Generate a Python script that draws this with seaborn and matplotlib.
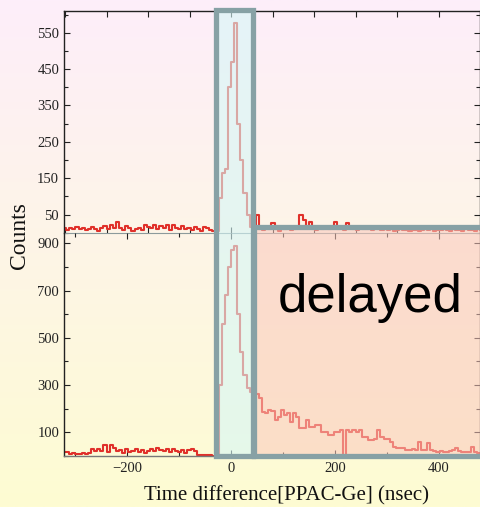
import numpy as np
import pandas as pd
import matplotlib
matplotlib.use("Agg")
import matplotlib.pyplot as plt
import matplotlib.colors as mcolors
import seaborn as sns
from matplotlib.patches import Rectangle
from matplotlib.transforms import blended_transform_factory
from matplotlib.ticker import FixedLocator, MultipleLocator, NullFormatter

# ---------------- data ----------------
bin_start = -324          # ns, left edge of first bin
bin_width = 6             # ns

top_counts = [
    12, 8, 14, 10, 15, 9, 13, 7, 11, 16,
    10, 6, 12, 18, 9, 22, 14, 30, 12, 8,
    18, 14, 6, 9, 12, 8, 20, 16, 12, 22,
    10, 18, 12, 20, 8, 22, 14, 10, 18, 9,
    12, 8, 15, 10, 6, 16, 12, 7, 5, 4,
    95, 165, 175, 400, 470, 578, 300, 200, 110, 50, 15,
    12, 50, 10, 8, 12, 9, 28, 10, 6, 14,
    9, 12, 8, 10, 12, 48, 35, 12, 30, 10,
    8, 14, 10, 12, 9, 14, 30, 10, 12, 8,
    28, 12, 10, 8, 12, 10, 9, 11, 8, 12,
    10, 7, 9, 8, 10, 6, 8, 9, 7, 8,
    6, 8, 7, 6, 8, 10, 7, 9, 6, 8,
    7, 10, 8, 6, 9, 7, 8, 6, 9, 7,
    8, 6, 9, 7,
]

bottom_counts = [
    18, 15, 10, 12, 8, 10, 14, 9, 12, 28,
    20, 30, 22, 45, 18, 48, 35, 20, 25, 12,
    28, 15, 22, 30, 18, 25, 12, 20, 28, 22,
    32, 25, 20, 28, 15, 30, 22, 18, 25, 12,
    25, 28, 20, 6, 4, 3, 4, 3, 2, 3,
    300, 560, 680, 800, 870, 890, 600, 440, 343, 288, 270,
    265, 262, 245, 185, 180, 194, 190, 152, 165, 194,
    173, 180, 145, 180, 166, 117, 120, 152, 124, 124,
    131, 131, 103, 103, 89, 89, 103, 103, 110, 2,
    110, 103, 110, 103, 110, 81, 81, 67, 67, 74,
    110, 81, 74, 74, 60, 39, 32, 35, 32, 25,
    25, 28, 25, 60, 25, 25, 53, 25, 22, 18,
    20, 15, 18, 20, 25, 32, 22, 18, 16, 18,
    39, 18, 11, 12,
]

x_range = (-322, 480)
top_range = (0, 610)
bottom_range = (0, 945)
top_yticks = [50, 150, 250, 350, 450, 550]
bottom_yticks = [100, 300, 500, 700, 900]
bottom_xticks = [-200, 0, 200, 400]
top_xtick_step = 80
prompt_window = (-29.5, 41.5)      # ns
delayed_window = (44.0, 530.0)     # ns

x_label = "Time difference[PPAC-Ge] (nsec)"
y_label = "Counts"
box_label = "delayed"

# ---------------- style ----------------
sns.set_theme(style="ticks")
plt.rcParams["font.family"] = ["Liberation Serif", "DejaVu Serif"]
plt.rcParams["axes.linewidth"] = 1.0

W, H = 481, 507
fig = plt.figure(figsize=(W / 100, H / 100), dpi=100)

# gradient background
bg = fig.add_axes([0, 0, 1, 1], zorder=-10)
g = np.linspace(0, 1, 256)[:, None, None]
c_top = np.array([253, 238, 250]) / 255
c_bot = np.array([254, 252, 210]) / 255
img = c_top * (1 - g) + c_bot * g
bg.imshow(img, aspect="auto", extent=[0, 1, 0, 1])
bg.axis("off")

n = len(top_counts)
bin_lo = bin_start
bin_hi = bin_start + bin_width * n
centers = bin_start + bin_width * (np.arange(n) + 0.5)
df = pd.DataFrame({"t": centers,
                   "top": np.asarray(top_counts, float),
                   "bottom": np.asarray(bottom_counts, float)})

left, width = 64 / W, 416 / W
ax_top = fig.add_axes([left, 1 - 232.7 / H, width, (232.7 - 11) / H])
ax_bot = fig.add_axes([left, 1 - 456 / H, width, (456 - 232.7) / H])

red = "#e0302a"
for ax, col in ((ax_top, "top"), (ax_bot, "bottom")):
    ax.set_facecolor("none")
    sns.histplot(data=df, x="t", weights=col, binwidth=bin_width,
                 binrange=(bin_lo, bin_hi), element="step",
                 fill=False, color=red, linewidth=1.5, ax=ax)
    ax.set_xlim(*x_range)
    ax.set_xlabel("")
    ax.set_ylabel("")
    ax.tick_params(which="both", direction="in", top=True, right=True,
                   colors="#222222", labelsize=10.5)
    ax.tick_params(which="major", length=4, width=0.8)
    ax.tick_params(which="minor", length=3, width=0.8)
    for s in ax.spines.values():
        s.set_color("#222222")
        s.set_linewidth(1.0)

ax_top.set_ylim(*top_range)
ax_top.yaxis.set_major_locator(FixedLocator(top_yticks))
ax_top.yaxis.set_minor_locator(MultipleLocator(100))
ax_top.xaxis.set_major_locator(MultipleLocator(top_xtick_step))
ax_top.xaxis.set_major_formatter(NullFormatter())
ax_top.spines["bottom"].set_color("#8c9a9c")
ax_top.spines["bottom"].set_linewidth(0.8)
ax_top.tick_params(axis="y", pad=3.5)

ax_bot.set_ylim(*bottom_range)
ax_bot.yaxis.set_major_locator(FixedLocator(bottom_yticks))
ax_bot.yaxis.set_minor_locator(MultipleLocator(200))
ax_bot.xaxis.set_major_locator(FixedLocator(bottom_xticks))
ax_bot.xaxis.set_minor_locator(MultipleLocator(100))
ax_bot.spines["top"].set_visible(False)
ax_bot.spines["bottom"].set_color("#777777")
ax_bot.tick_params(axis="y", pad=3.5)
ax_bot.tick_params(axis="x", pad=4.5)

# boxes spanning both panels (x in data units, y in figure fraction)
tr = blended_transform_factory(ax_bot.transData, fig.transFigure)
edge_col = "#87a1a5"
y_bottom = 1 - 455.5 / H
delayed = Rectangle((delayed_window[0], y_bottom), delayed_window[1] - delayed_window[0],
                    (455.5 - 226.5) / H, transform=tr, clip_on=False,
                    facecolor=mcolors.to_rgba((250 / 255, 200 / 255, 188 / 255), 0.55),
                    edgecolor=edge_col, linewidth=3.8, zorder=2)
prompt = Rectangle((prompt_window[0], y_bottom), prompt_window[1] - prompt_window[0],
                   (455.5 - 10) / H, transform=tr, clip_on=False,
                   facecolor=mcolors.to_rgba((213 / 255, 247 / 255, 247 / 255), 0.6),
                   edgecolor=edge_col, linewidth=3.8, zorder=3)
fig.add_artist(delayed)
fig.add_artist(prompt)

fig.text(370 / W, 1 - 312 / H, box_label, fontsize=38, family=["Liberation Sans", "DejaVu Sans"],
         ha="center", va="baseline", color="black", zorder=5)
fig.text(286 / W, 1 - 500 / H, x_label, fontsize=15, ha="center", va="baseline",
         color="#111111")
fig.text(20 / W, 1 - 236 / H, y_label, fontsize=17, rotation=90, ha="center",
         va="center", color="#111111")

fig.savefig("out.png", dpi=100)
